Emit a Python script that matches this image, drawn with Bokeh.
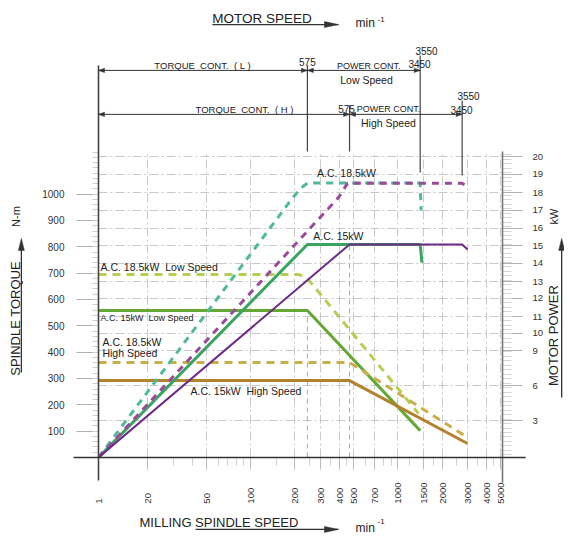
import numpy as np
from bokeh.plotting import figure
from bokeh.models import Range1d, LinearAxis, FixedTicker
from bokeh.core.properties import value
from bokeh.embed import file_html
from bokeh.resources import INLINE

FONT_NAME = "Liberation Sans"
FONT = value(FONT_NAME)

# ---------------- data ----------------
ORIGIN = 9.24          # speed-axis origin (labelled "1" on the chart)
SPEED_MAX = 5150
TORQUE_MAX = 1162

speed_ticks = [ORIGIN, 20, 50, 100, 200, 300, 400, 500, 700, 1000, 1500, 2000, 3000, 4000, 5000]
speed_labels = ["1", "20", "50", "100", "200", "300", "400", "500", "700",
                "1000", "1500", "2000", "3000", "4000", "5000"]
speed_minor = [30, 40, 60, 70, 80, 90, 150, 250, 350, 450, 600, 800, 900,
               1200, 1750, 2500, 3500, 4500]
torque_ticks = [0, 100, 200, 300, 400, 500, 600, 700, 800, 900, 1000]
torque_labels = ["", "100", "200", "300", "400", "500", "600", "700", "800", "900", "1000"]
power_labels = ["3", "6", "9", "10", "11", "12", "13", "14", "15", "16", "17", "18", "19", "20"]
power_tick_torque = [140, 273, 406, 471, 535, 604, 668, 737, 805, 870, 938, 1006, 1075, 1143]

low_knee, high_knee = 243, 470      # spindle speed at motor 575 min-1
low_end, high_end, high_tail = 1420, 2740, 2980

# power-limit curves
pw185_low_x = [ORIGIN, 187, 218, low_knee, low_end, 1440]
pw185_low_y = [0, 976, 1022, 1042, 1042, 938]
pw185_high_x = [ORIGIN, 395, 455, high_end, high_tail]
pw185_high_y = [0, 987, 1041, 1041, 1029]
pw15_low_x = [ORIGIN, low_knee, low_end, 1460]
pw15_low_y = [0, 809, 809, 740]
pw15_high_x = [ORIGIN, high_knee, high_end, high_tail]
pw15_high_y = [0, 809, 809, 790]
# torque curves
tq185_low_x = [ORIGIN, 211, 240, 1383]
tq185_low_y = [695, 695, 684, 167]
tq15_low_x = [ORIGIN, low_knee, low_end]
tq15_low_y = [558, 558, 102]
tq185_high_x = [ORIGIN, high_knee, high_tail]
tq185_high_y = [361, 361, 76]
tq15_high_x = [ORIGIN, high_knee, high_tail]
tq15_high_y = [292, 292, 53]

# ---------------- figure ----------------
W, H = 564, 535
FL, FR, FT, FB = 98, 62, 151, 78
p = figure(width=W, height=H, x_axis_type="log",
           x_range=Range1d(ORIGIN, SPEED_MAX), y_range=Range1d(0, TORQUE_MAX),
           min_border_left=FL, min_border_right=FR, min_border_top=FT, min_border_bottom=FB,
           output_backend="svg", toolbar_location=None)
p.outline_line_color = None
p.background_fill_color = "white"
p.border_fill_color = "white"

# pixel helpers for decorations (derived from the frame size)
PX_PER_DEC = (W - FL - FR) / np.log10(SPEED_MAX / ORIGIN)
PX_PER_NM = (H - FT - FB) / TORQUE_MAX


def xs(x, px):
    return x * 10 ** (px / PX_PER_DEC)


def ys(y, px):
    return y + px / PX_PER_NM


# bottom axis
xa = p.xaxis[0]
xa.ticker = FixedTicker(ticks=speed_ticks, minor_ticks=speed_minor)
pad = "\u00a0\u00a0"
xa.major_label_overrides = {t: (l + pad * (4 - len(l))) for t, l in zip(speed_ticks, speed_labels)}
xa.major_label_orientation = np.pi / 2
xa.axis_line_color = None
xa.major_tick_out = 12
xa.major_tick_in = 0
xa.major_tick_line_color = "#bbbbbb"
xa.minor_tick_out = 8
xa.minor_tick_in = 0
xa.minor_tick_line_color = "#d0d0d0"
xa.major_label_standoff = 13
xa.major_label_text_font = FONT_NAME
xa.major_label_text_font_size = "9.5px"
xa.major_label_text_color = "#333333"

# left axis
ya = p.yaxis[0]
ya.ticker = FixedTicker(ticks=torque_ticks, minor_ticks=list(range(0, 1161, 20)))
ya.major_label_overrides = {t: l for t, l in zip(torque_ticks, torque_labels)}
ya.axis_line_color = None
ya.major_tick_out = 22
ya.major_tick_in = 0
ya.major_tick_line_color = "#b0b0b0"
ya.minor_tick_out = 6
ya.minor_tick_in = 0
ya.minor_tick_line_color = "#cfcfcf"
ya.major_label_standoff = 12
ya.major_label_text_font = FONT_NAME
ya.major_label_text_font_size = "10px"
ya.major_label_text_color = "#333333"

# right axis (motor power)
p.extra_y_ranges = {"pw": Range1d(0, TORQUE_MAX)}
pw_ticker = FixedTicker(ticks=power_tick_torque, minor_ticks=list(range(10, 1161, 17)))
ra = LinearAxis(y_range_name="pw", ticker=pw_ticker)
ra.major_label_overrides = {t: l for t, l in zip(power_tick_torque, power_labels)}
ra.axis_line_color = None
ra.major_tick_out = 20
ra.major_tick_in = 0
ra.major_tick_line_color = "#b0b0b0"
ra.minor_tick_out = 9
ra.minor_tick_in = 0
ra.minor_tick_line_color = "#d6d6d6"
ra.major_label_standoff = 10
ra.major_label_text_font = FONT_NAME
ra.major_label_text_font_size = "9.5px"
ra.major_label_text_color = "#333333"
p.add_layout(ra, "right")

# grids
p.xgrid[0].ticker = FixedTicker(ticks=speed_ticks[1:])
p.ygrid[0].ticker = pw_ticker
for g in (p.xgrid[0], p.ygrid[0]):
    g.grid_line_color = "#c9c9c9"
    g.grid_line_dash = "9 3 2 3"
    g.grid_line_width = 1

# pink marker lines at motor 575 min-1
p.segment(x0=[low_knee, high_knee], y0=[0, 0], x1=[low_knee, high_knee], y1=[547, 805],
          line_color="#e0909c", line_width=1, line_dash="5 4")

# torque curves
p.line(tq185_low_x, tq185_low_y, line_color="#b5ce55", line_width=3, line_dash="8 6")
p.line(tq15_low_x, tq15_low_y, line_color="#65a836", line_width=3)
p.line(tq185_high_x, tq185_high_y, line_color="#c9ae4c", line_width=3, line_dash="8 6")
p.line(tq15_high_x, tq15_high_y, line_color="#b3822c", line_width=3)
# power curves
p.line(pw185_low_x, pw185_low_y, line_color="#4fba98", line_width=3, line_dash="7 6")
p.line(pw15_low_x, pw15_low_y, line_color="#3ca462", line_width=3)
p.line(pw185_high_x, pw185_high_y, line_color="#9a4a9c", line_width=3, line_dash="7 6")
p.line(pw15_high_x, pw15_high_y, line_color="#6e2a86", line_width=2)


def txt(x, y, s, size, align="center", angle=0.0, color="#222222", level="overlay"):
    p.text(x=[x], y=[y], text=[s], text_font=FONT, text_font_size=f"{size}px",
           text_align=align, text_baseline="middle", angle=angle,
           text_color=color, level=level)


def seg(x0, y0, x1, y1, color="#333333", width=1.0):
    p.segment(x0=[x0], y0=[y0], x1=[x1], y1=[y1], line_color=color,
              line_width=width, level="overlay")


def head(x, y, direction, length=6, half=2.2, color="#333333"):
    # filled arrow head with its tip at (x, y)
    if direction == "right":
        hx, hy = [x, xs(x, -length), xs(x, -length)], [y, ys(y, half), ys(y, -half)]
    elif direction == "left":
        hx, hy = [x, xs(x, length), xs(x, length)], [y, ys(y, half), ys(y, -half)]
    else:
        hx, hy = [x, xs(x, -half), xs(x, half)], [y, ys(y, -length), ys(y, -length)]
    p.patch(hx, hy, fill_color=color, line_color=color, line_width=0.5, level="overlay")


def dim_arrow(x0, x1, y):
    seg(x0, y, x1, y)
    head(x0, y, "left")
    head(x1, y, "right")


# curve labels
nb = "\u00a0"
txt(448, 1079, "A.C. 18.5kW", 10.5, level="glyph")
txt(395, 843, "A.C. 15kW", 10.5, level="glyph")
txt(9.53, 722, "A.C. 18.5kW" + nb + " Low Speed", 10.5, align="left", level="glyph")
txt(9.53, 528, "A.C. 15kW" + nb + " Low Speed", 9, align="left", level="glyph")
txt(9.83, 437, "A.C. 18.5kW", 10.5, align="left", level="glyph")
txt(9.83, 395, "High Speed", 10.5, align="left", level="glyph")
txt(39.0, 251, "A.C. 15kW" + nb + " High Speed", 10.5, align="left", level="glyph")

# frame lines (axis rules extended like the drawing)
seg(ORIGIN, -87, ORIGIN, 1489, color="#444444", width=1.6)
seg(SPEED_MAX, -95, SPEED_MAX, TORQUE_MAX, color="#777777", width=1.6)
seg(6.25, 0, 7387, 0, color="#333333", width=1.6)

# motor-speed dimension lines
ROW1, ROW2 = 1470, 1303
seg(low_knee, TORQUE_MAX, low_knee, 1489, color="#444444", width=1.2)
seg(low_end, 1082, low_end, 1527, color="#444444", width=1.2)
seg(high_knee, TORQUE_MAX, high_knee, 1337, color="#444444", width=1.2)
seg(high_end, 1071, high_end, 1356, color="#444444", width=1.2)
dim_arrow(ORIGIN, low_knee, ROW1)
dim_arrow(low_knee, low_end, ROW1)
dim_arrow(ORIGIN, high_knee, ROW2)
dim_arrow(high_knee, high_end, ROW2)

sp2 = nb + " "
txt(47.1, 1489, "TORQUE" + sp2 + "CONT." + sp2 + "(" + nb + "L" + nb + ")", 9.5)
txt(low_knee, 1500, "575", 10)
txt(635, 1485, "POWER CONT.", 9)
txt(613, 1435, "Low Speed", 10.5)
txt(1568, 1544, "3550", 10)
txt(1405, 1494, "3450", 10)
txt(90.8, 1323, "TORQUE" + sp2 + "CONT." + sp2 + "(" + nb + "H" + nb + ")", 9.5)
txt(448, 1323, "575", 10)
txt(864, 1323, "POWER CONT.", 9)
txt(864, 1272, "High Speed", 10.5)
txt(3026, 1373, "3550", 10)
txt(2713, 1320, "3450", 10)

# titles
txt(54.9, 1667, "MOTOR SPEED", 13.5, align="left")
seg(54.9, 1644, 395, 1644, width=1.3)
head(395, 1644, "right", length=14, half=3)
txt(516, 1650, "min", 12, align="left")
txt(729, 1662, "-1", 8, align="left")

txt(17.55, -247, "MILLING SPINDLE SPEED", 13, align="left")
seg(42.2, -273, 395, -273, width=1.3)
head(395, -273, "right", length=14, half=3)
txt(516, -268, "min", 12, align="left")
txt(729, -243, "-1", 8, align="left")

txt(2.515, 528, "SPINDLE TORQUE", 13, angle=np.pi / 2)
seg(2.763, 323, 2.763, 800, width=1.3)
head(2.763, 832, "up", length=12, half=3)
txt(2.559, 915, "N-m", 11, angle=np.pi / 2)

txt(11500, 463, "MOTOR POWER", 13, angle=np.pi / 2)
seg(13000, 228, 13000, 800, width=1.3)
head(13000, 832, "up", length=12, half=3)
txt(11500, 915, "kW", 11, angle=np.pi / 2)

open("out.html", "w").write(file_html(p, INLINE))
